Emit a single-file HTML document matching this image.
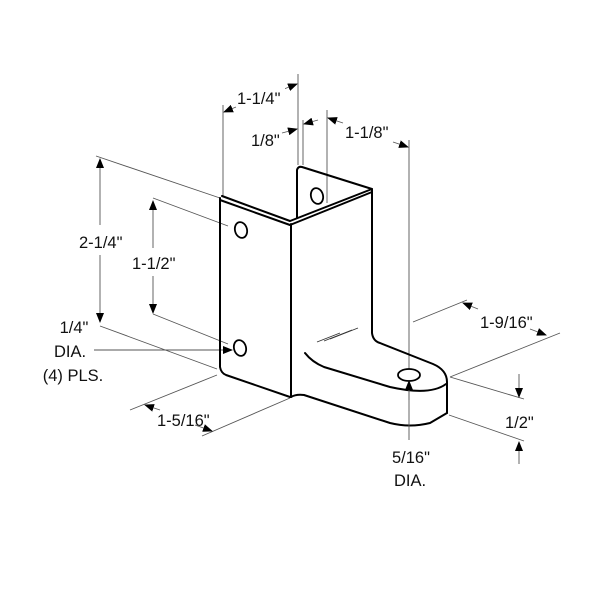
<!DOCTYPE html>
<html><head><style>
html,body{margin:0;padding:0;background:#fff;}
svg{display:block;}
text{font-family:"Liberation Sans",sans-serif;font-size:16.5px;fill:#111;}
</style></head><body>
<svg width="600" height="600" viewBox="0 0 600 600" xmlns="http://www.w3.org/2000/svg">
<defs>
<marker id="a" markerWidth="10" markerHeight="8" refX="9" refY="4" orient="auto" markerUnits="userSpaceOnUse">
<path d="M0,0 L10,4 L0,8 Z" fill="#000"/></marker>
</defs>
<g stroke="#555" stroke-width="0.9" fill="none">
<line x1="223" y1="105" x2="223" y2="196"/>
<line x1="298" y1="74" x2="298" y2="165"/>
<line x1="236" y1="107" x2="224" y2="112" marker-end="url(#a)"/>
<line x1="284" y1="89" x2="297" y2="84" marker-end="url(#a)"/>
<line x1="303" y1="120" x2="303" y2="165"/>
<line x1="282" y1="133" x2="297" y2="129" marker-end="url(#a)"/>
<line x1="318" y1="120" x2="304" y2="124" marker-end="url(#a)"/>
<line x1="327" y1="110" x2="327" y2="203"/>
<line x1="409" y1="140" x2="409" y2="400"/>
<line x1="343" y1="123" x2="328" y2="118" marker-end="url(#a)"/>
<line x1="393" y1="142" x2="408" y2="147" marker-end="url(#a)"/>
<line x1="96" y1="156" x2="220" y2="198"/>
<line x1="100" y1="326" x2="217" y2="369"/>
<line x1="100" y1="225" x2="100" y2="159" marker-end="url(#a)"/>
<line x1="100" y1="255" x2="100" y2="322" marker-end="url(#a)"/>
<line x1="153" y1="198" x2="228" y2="226"/>
<line x1="153" y1="314" x2="228" y2="344"/>
<line x1="153" y1="248" x2="153" y2="201" marker-end="url(#a)"/>
<line x1="153" y1="276" x2="153" y2="313" marker-end="url(#a)"/>
<line x1="94" y1="350" x2="232" y2="350" marker-end="url(#a)"/>
<line x1="130" y1="410" x2="217" y2="375"/>
<line x1="202" y1="436" x2="290" y2="398"/>
<line x1="160" y1="410" x2="145" y2="405" marker-end="url(#a)"/>
<line x1="195" y1="425" x2="212" y2="431" marker-end="url(#a)"/>
<line x1="413" y1="322" x2="467" y2="300"/>
<line x1="450" y1="377" x2="560" y2="333"/>
<line x1="478" y1="309" x2="463" y2="303" marker-end="url(#a)"/>
<line x1="530" y1="329" x2="546" y2="335" marker-end="url(#a)"/>
<line x1="450" y1="377" x2="524" y2="399"/>
<line x1="449" y1="415" x2="524" y2="441"/>
<line x1="519" y1="374" x2="519" y2="397" marker-end="url(#a)"/>
<line x1="519" y1="464" x2="519" y2="442" marker-end="url(#a)"/>
<line x1="317" y1="342" x2="340" y2="333" stroke="#333"/>
<line x1="324" y1="341" x2="352" y2="330" stroke="#333"/>
<line x1="330" y1="339" x2="358" y2="328" stroke="#333"/>
</g>
<g stroke="#000" stroke-width="2" fill="none" stroke-linejoin="round" stroke-linecap="round">
<path d="M220,198 L220,367 Q221,373 226,375 L290,397"/>
<path d="M222,196 L290,221 L372,189"/>
<path d="M220,200 L290,225 L372,192"/>
<line x1="291" y1="224" x2="291" y2="397"/>
<path d="M297,218 L297,170 Q298,166 302,167 L372,189"/>
<path d="M372,190 L372,333 Q373,341 380,343 L433,364 Q447,370 447,382 L447,413"/>
<path d="M291,397 Q296,394 304,395 L390,423 Q410,428 430,423 L447,413"/>
<path d="M305,353 Q312,362 324,367 L390,387 Q430,396 446,384"/>
</g>
<g stroke="#000" stroke-width="1.8" fill="#fff">
<ellipse cx="241" cy="230" rx="6" ry="8" transform="rotate(-15 241 230)"/>
<ellipse cx="240" cy="348" rx="6" ry="8" transform="rotate(-15 240 348)"/>
<ellipse cx="317" cy="196" rx="6" ry="8" transform="rotate(-15 317 196)"/>
<ellipse cx="409" cy="375" rx="11" ry="6"/>
</g>
<line x1="409" y1="440" x2="409" y2="381" stroke="#555" stroke-width="0.9" marker-end="url(#a)"/>
<rect x="235" y="88" width="50" height="18" fill="#fff"/>
<text x="237" y="104">1-1/4"</text>
<text x="251" y="146">1/8"</text>
<text x="345" y="138">1-1/8"</text>
<rect x="77" y="232" width="50" height="20" fill="#fff"/>
<text x="79" y="248">2-1/4"</text>
<rect x="130" y="254" width="50" height="20" fill="#fff"/>
<text x="132" y="269">1-1/2"</text>
<text x="74" y="333" text-anchor="middle">1/4"</text>
<text x="70" y="357" text-anchor="middle">DIA.</text>
<text x="73" y="381" text-anchor="middle">(4) PLS.</text>
<text x="157" y="426">1-5/16"</text>
<text x="480" y="328">1-9/16"</text>
<text x="505" y="428">1/2"</text>
<text x="411" y="463" text-anchor="middle">5/16"</text>
<text x="410" y="486" text-anchor="middle">DIA.</text>
</svg>
</body></html>
